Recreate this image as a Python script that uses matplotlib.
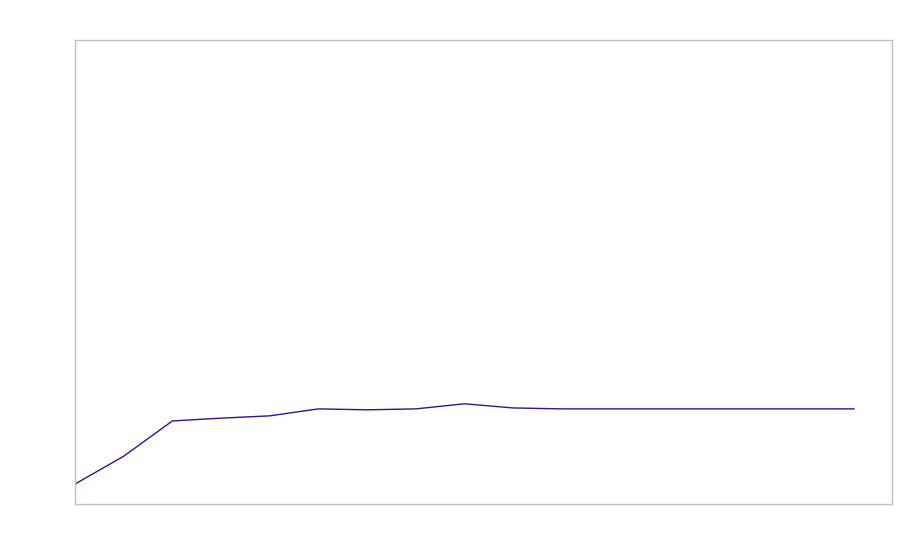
import matplotlib.pyplot as plt

steps = list(range(17))
values = [0.043, 0.103, 0.179, 0.185, 0.190, 0.205, 0.203, 0.205, 0.216, 0.207,
          0.205, 0.205, 0.205, 0.205, 0.205, 0.205, 0.205]

fig = plt.figure(figsize=(9, 5.6), dpi=100)
ax = fig.add_axes([75 / 900, 56 / 560, 817 / 900, 464 / 560])
ax.plot(steps, values, color="#3d0e8e", linewidth=1.0)

ax.set_xlim(0, 16.78)
ax.set_ylim(0, 1)
ax.set_xticks([])
ax.set_yticks([])
for s in ax.spines.values():
    s.set_color("#c0c0c0")
    s.set_linewidth(1.0)

fig.savefig("out.png", dpi=100)
